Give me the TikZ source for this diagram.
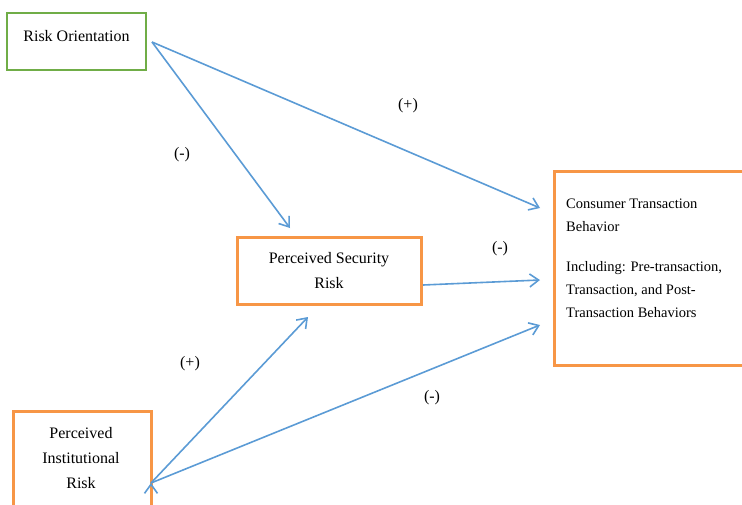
\documentclass[tikz,border=0pt]{standalone}
\usepackage{fontspec}
\setmainfont{Liberation Serif}
\usetikzlibrary{arrows.meta,positioning,calc}
\definecolor{boxgreen}{HTML}{70AD47}
\definecolor{boxorange}{HTML}{F79646}
\definecolor{arrowblue}{HTML}{5B9BD5}

\begin{document}
\begin{tikzpicture}[x=1pt,y=-1pt,
  greenbox/.style={draw=boxgreen,line width=1.5pt,inner sep=0pt,font=\fontsize{16}{25}\selectfont},
  orangebox/.style={draw=boxorange,line width=3pt,inner sep=0pt,align=center,font=\fontsize{16}{25}\selectfont},
  sign/.style={font=\fontsize{16}{20}\selectfont},
  link/.style={draw=arrowblue,line width=1.6pt,-{Straight Barb[length=9pt,width=13pt]}}]
\useasboundingbox (0,0) rectangle (742,504);
% boxes
\node[greenbox,minimum width=139,minimum height=57] (ro) at (76.5,41.5) {\raisebox{11pt}{Risk Orientation}};
\node[orangebox,minimum width=184,minimum height=67] (psr) at (329,270.5) {\raisebox{-2pt}{Perceived Security}\\\raisebox{-2pt}{Risk}};
\node[orangebox,minimum width=210,minimum height=194,anchor=north west] (ctb) at (553,170) {};
\node[anchor=north west,align=left,inner sep=0pt,font=\fontsize{14.5}{23}\selectfont] (ctbtext) at ([shift={(13,29)}]ctb.north west)
  {Consumer Transaction\\Behavior\\[17pt]Including: Pre-transaction,\\Transaction, and Post-\\Transaction Behaviors};
\node[orangebox,minimum width=138,minimum height=130,anchor=north west] (pir) at (12,410) {};
\node[align=center,inner sep=0pt,font=\fontsize{16}{25}\selectfont] (pirtext) at (81,458) {Perceived\\Institutional\\Risk};
% arrow ends
\coordinate (roout) at (152,42);
\coordinate (psrin) at (290,228);
\coordinate (psrout) at (423,285);
\coordinate (psrin2) at (308,317);
\coordinate (ctbin1) at (540,208);
\coordinate (ctbin2) at (540,280);
\coordinate (ctbin3) at (540,325);
\coordinate (pirout) at (151,483);
\path[link]
  (roout) edge (psrin)
  (roout) edge (ctbin1)
  (psrout) edge (ctbin2)
  (pirout) edge (psrin2)
  (pirout) edge (ctbin3);
% signs
\node[sign] (s1) at (408,106) {(+)};
\node[sign] (s2) at (182,155) {(-)};
\node[sign] (s3) at (500,249) {(-)};
\node[sign] (s4) at (190,364) {(+)};
\node[sign] (s5) at (432,398) {(-)};
\end{tikzpicture}
\end{document}
